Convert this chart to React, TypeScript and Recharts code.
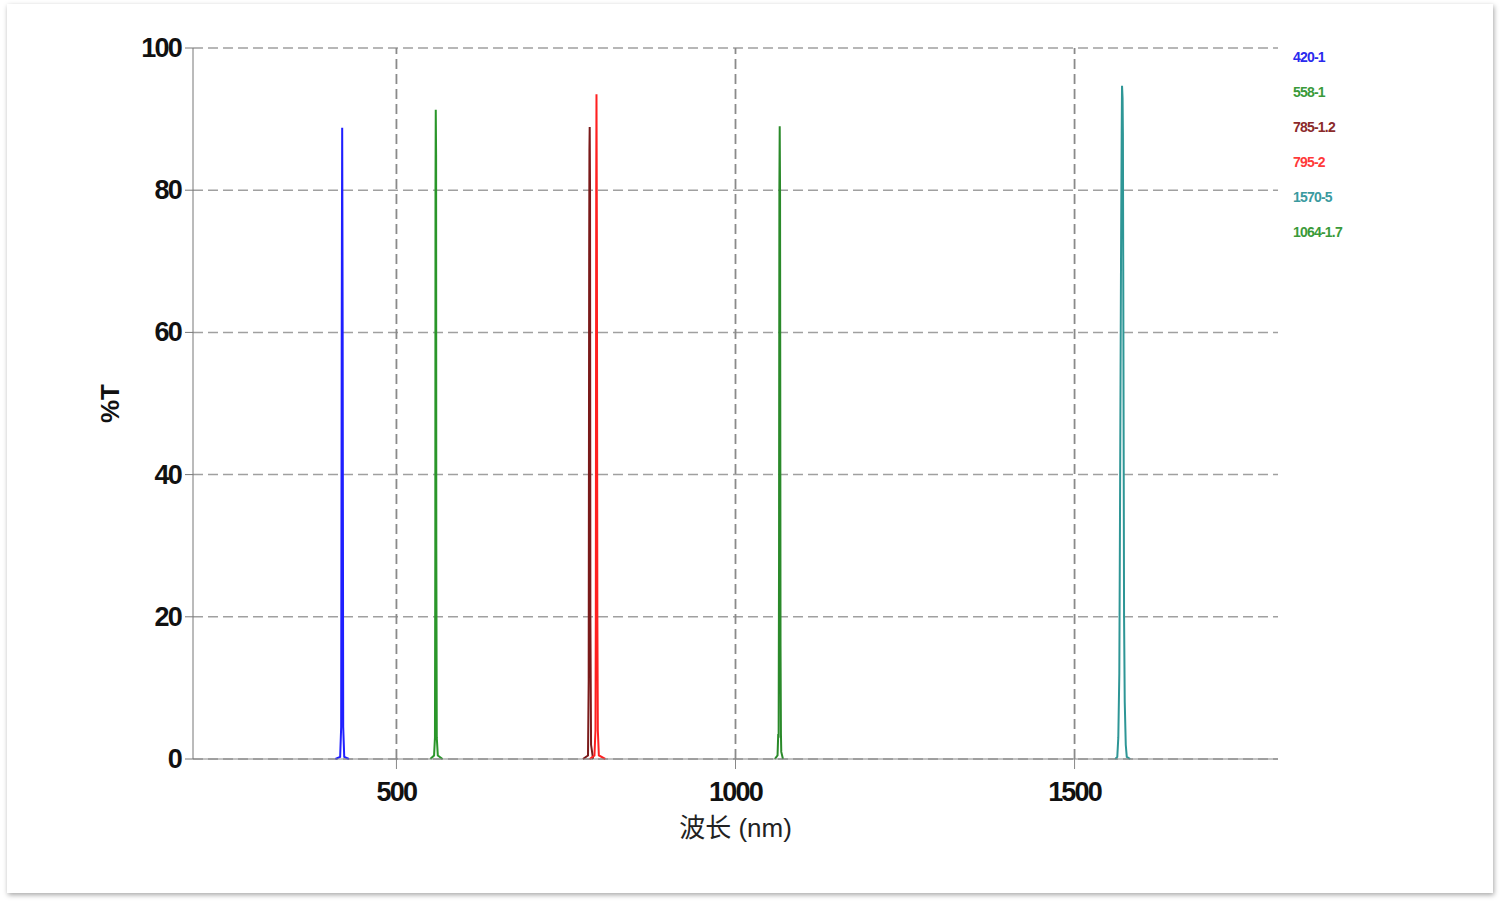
import { LineChart, Line, XAxis, YAxis, CartesianGrid, ReferenceLine } from "recharts";

// transmission curves, wavelength (nm) vs %T
const peak420 = [
  { x: 410, y: 0 }, { x: 417, y: 0.3 }, { x: 418.5, y: 4.5 }, { x: 419.3, y: 60 },
  { x: 420, y: 88.8 }, { x: 420.7, y: 60 }, { x: 421.5, y: 4.5 }, { x: 423, y: 0.3 }, { x: 430, y: 0 },
];
const peak558 = [
  { x: 550, y: 0 }, { x: 555.5, y: 0.5 }, { x: 556.8, y: 3 }, { x: 557.3, y: 29.7 }, { x: 557.6, y: 80 },
  { x: 558, y: 91.3 }, { x: 558.5, y: 85 }, { x: 558.8, y: 30 }, { x: 559.5, y: 3 }, { x: 561, y: 0.5 }, { x: 568, y: 0 },
];
const peak785 = [
  { x: 775, y: 0 }, { x: 782.5, y: 0.5 }, { x: 783.5, y: 11 }, { x: 784.2, y: 70 }, { x: 784.6, y: 85.6 },
  { x: 785, y: 88.9 }, { x: 785.5, y: 80 }, { x: 786, y: 20 }, { x: 787, y: 2 }, { x: 790, y: 0 },
];
const peak795 = [
  { x: 785, y: 0 }, { x: 792, y: 0.5 }, { x: 793.5, y: 4 }, { x: 794, y: 20 }, { x: 794.6, y: 80 },
  { x: 795, y: 93.5 }, { x: 795.6, y: 73 }, { x: 796.3, y: 20 }, { x: 797, y: 4 }, { x: 798.5, y: 0.5 }, { x: 808, y: 0 },
];
const peak1570 = [
  { x: 1560, y: 0 }, { x: 1563, y: 0.3 }, { x: 1564.5, y: 3 }, { x: 1566, y: 12 }, { x: 1567, y: 34 },
  { x: 1568.5, y: 70 }, { x: 1569.5, y: 88 }, { x: 1570, y: 94.7 }, { x: 1570.8, y: 93 }, { x: 1571.3, y: 88 },
  { x: 1572, y: 60 }, { x: 1573, y: 20 }, { x: 1574, y: 8 }, { x: 1575.5, y: 2 }, { x: 1577, y: 0.3 }, { x: 1582, y: 0 },
];
const peak1064 = [
  { x: 1058, y: 0 }, { x: 1062, y: 0.5 }, { x: 1063, y: 3.5 }, { x: 1063.6, y: 3 }, { x: 1064.2, y: 28 },
  { x: 1064.7, y: 80 }, { x: 1065.2, y: 89 }, { x: 1065.7, y: 80 }, { x: 1066.4, y: 16 }, { x: 1067, y: 3.5 },
  { x: 1067.5, y: 1 }, { x: 1070, y: 0 },
];

const xTicks = [500, 1000, 1500];
const yTicks = [0, 20, 40, 60, 80, 100];

const series = [
  { name: "420-1", data: peak420, color: "#1f1fff", label: "#2a2aee" },
  { name: "558-1", data: peak558, color: "#2a962a", label: "#3a9a3a" },
  { name: "785-1.2", data: peak785, color: "#7a1a1a", label: "#8b2a2a" },
  { name: "795-2", data: peak795, color: "#ff2020", label: "#ff3a3a" },
  { name: "1570-5", data: peak1570, color: "#2e9696", label: "#3a9aa0" },
  { name: "1064-1.7", data: peak1064, color: "#2a8a2a", label: "#3a9a3a" },
];

const font = "'Liberation Sans', Arial, 'Noto Sans CJK SC', sans-serif";

const YTick = ({ x, y, payload }: any) => (
  <text x={x} y={y} dy={9} textAnchor="end" fontSize={27} fontWeight="bold" fill="#111"
    fontFamily={font} letterSpacing={-1.8}>
    {payload.value}
  </text>
);

const XTick = ({ x, y, payload }: any) => (
  <text x={x} y={y} dy={22} textAnchor="middle" fontSize={27} fontWeight="bold" fill="#111"
    fontFamily={font} letterSpacing={-1.8}>
    {payload.value}
  </text>
);

const LegendList = () => (
  <div style={{ position: "absolute", left: 1293, top: 48 }}>
    {series.map((s) => (
      <div key={s.name} style={{
        height: 35, color: s.label, fontFamily: font, fontWeight: "bold", fontSize: 14,
        letterSpacing: -0.8, lineHeight: "18px",
      }}>
        {s.name}
      </div>
    ))}
  </div>
);

export default function App() {
  return (
    <div style={{ position: "absolute", left: 0, top: 0, width: 1502, height: 905, background: "#fff" }}>
      <div style={{
        position: "absolute", left: 7, top: 4, width: 1486, height: 889, background: "#fff",
        boxShadow: "1px 2px 5px rgba(0,0,0,0.35)",
      }} />
      <div style={{ position: "absolute", left: 0, top: 0 }}>
        <LineChart width={1502} height={905} margin={{ top: 48, right: 224, bottom: 0, left: 0 }}>
          <CartesianGrid horizontal={true} vertical={false} stroke="#a0a0a0" strokeWidth={1.5} strokeDasharray="10 5" />
          {xTicks.map((t) => (
            <ReferenceLine key={t} x={t} stroke="#8a8a8a" strokeWidth={1.8} strokeDasharray="10 5" />
          ))}
          <XAxis type="number" dataKey="x" domain={[200, 1800]} ticks={xTicks} allowDataOverflow
            height={146} stroke="#888" tickSize={10} tickMargin={10} tick={<XTick />}
            label={{ value: "波长 (nm)", position: "insideTop", offset: 60, fontSize: 26, fill: "#222", fontFamily: font }} />
          <YAxis type="number" domain={[0, 100]} ticks={yTicks} width={193} stroke="#777"
            tickSize={8} tickMargin={4} tick={<YTick />}
            label={{ value: "%T", angle: -90, position: "insideLeft", offset: 110, fontSize: 26, fontWeight: "bold", fill: "#111", fontFamily: font, style: { textAnchor: "middle" } }} />
          {series.map((s) => (
            <Line key={s.name} data={s.data} dataKey="y" name={s.name} type="linear" stroke={s.color}
              strokeWidth={2} dot={false} isAnimationActive={false} />
          ))}
        </LineChart>
        <LegendList />
      </div>
    </div>
  );
}
